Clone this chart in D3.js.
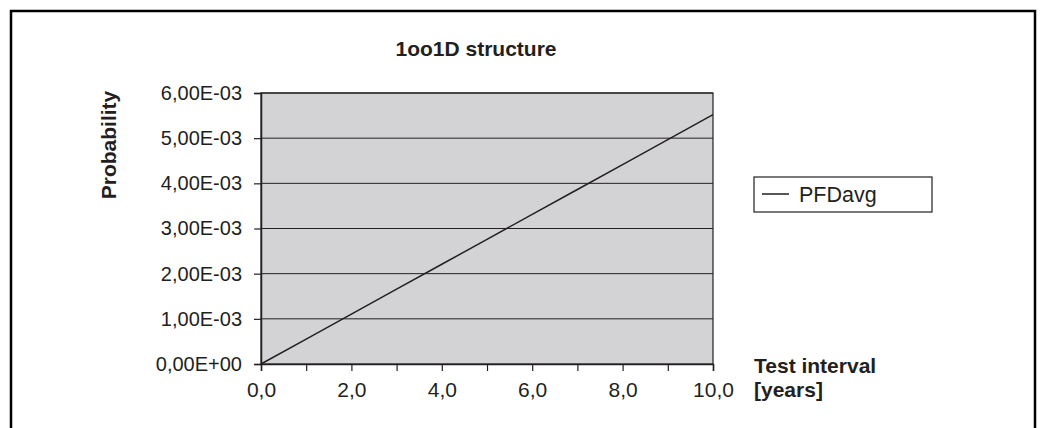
<!DOCTYPE html>
<html>
<head>
<meta charset="utf-8">
<script src="https://cdn.jsdelivr.net/npm/d3@7"></script>
<style>
  body { margin: 0; background: #fff; }
  text { font-family: "Liberation Sans", Arial, sans-serif; fill: #231f20; }
</style>
</head>
<body>
<svg id="chart" width="1043" height="428"></svg>
<script>
// test interval in years and PFDavg
const years = [0, 1, 2, 3, 4, 5, 6, 7, 8, 9, 10];
const pfdAvg = [0, 0.000552, 0.001104, 0.001656, 0.002208, 0.00276, 0.003312, 0.003864, 0.004416, 0.004968, 0.00552];
const yTicks = [0, 0.001, 0.002, 0.003, 0.004, 0.005, 0.006];
const xTicks = [0, 2, 4, 6, 8, 10];
const seriesName = "PFDavg";

const svg = d3.select("#chart");
const plot = { left: 261, top: 93, right: 713, bottom: 364 };

const x = d3.scaleLinear().domain([0, 10]).range([plot.left, plot.right]);
const y = d3.scaleLinear().domain([0, 0.006]).range([plot.bottom, plot.top]);

// outer frame (bottom is cut off)
svg.append("path")
  .attr("d", "M11,428 V11 H1035 V428")
  .attr("fill", "none")
  .attr("stroke", "#000")
  .attr("stroke-width", 2.5);

svg.append("rect")
  .attr("x", plot.left).attr("y", plot.top)
  .attr("width", plot.right - plot.left).attr("height", plot.bottom - plot.top)
  .attr("fill", "#d3d3d5")
  .attr("stroke", "#231f20")
  .attr("stroke-width", 1.2);

// horizontal grid
svg.append("g").selectAll("line")
  .data(yTicks.slice(1))
  .join("line")
  .attr("x1", plot.left).attr("x2", plot.right)
  .attr("y1", d => y(d)).attr("y2", d => y(d))
  .attr("stroke", "#231f20")
  .attr("stroke-width", 1);

const fmtY = d => d3.format(".2e")(d).replace(".", ",").replace(/e([+-])(\d)$/, "E$10$2").replace(/e/, "E");

const yAxis = svg.append("g")
  .attr("transform", `translate(${plot.left},0)`)
  .call(d3.axisLeft(y).tickValues(yTicks).tickFormat(fmtY).tickSize(7).tickPadding(12));

const xAxis = svg.append("g")
  .attr("transform", `translate(0,${plot.bottom})`)
  .call(d3.axisBottom(x).ticks(10).tickSize(7).tickPadding(11)
    .tickFormat(d => xTicks.includes(d) ? d3.format(".1f")(d).replace(".", ",") : ""));

[yAxis, xAxis].forEach(g => {
  g.select(".domain").attr("stroke", "#231f20").attr("stroke-width", 1.5);
  g.selectAll(".tick line").attr("stroke", "#231f20").attr("stroke-width", 1.2);
  g.selectAll(".tick text").attr("fill", "#231f20")
    .style("font-family", "'Liberation Sans', Arial, sans-serif");
});
yAxis.selectAll(".tick text").style("font-size", "20px");
xAxis.selectAll(".tick text").style("font-size", "21px");

// series
svg.append("path")
  .datum(years.map((d, i) => [d, pfdAvg[i]]))
  .attr("fill", "none")
  .attr("stroke", "#231f20")
  .attr("stroke-width", 1.5)
  .attr("d", d3.line().x(d => x(d[0])).y(d => y(d[1])));

// title and axis titles
svg.append("text")
  .attr("x", 476).attr("y", 56)
  .attr("text-anchor", "middle")
  .style("font-size", "21px").attr("font-weight", "bold")
  .text("1oo1D structure");

svg.append("text")
  .attr("transform", "translate(116,145) rotate(-90)")
  .attr("text-anchor", "middle")
  .style("font-size", "21px").attr("font-weight", "bold")
  .text("Probability");

svg.append("text")
  .attr("x", 754).attr("y", 373)
  .style("font-size", "21px").attr("font-weight", "bold")
  .text("Test interval");
svg.append("text")
  .attr("x", 754).attr("y", 397)
  .style("font-size", "21px").attr("font-weight", "bold")
  .text("[years]");

// legend
const legend = svg.append("g").attr("transform", "translate(754,177)");
legend.append("rect")
  .attr("width", 178).attr("height", 35)
  .attr("fill", "#fff").attr("stroke", "#231f20").attr("stroke-width", 1.2);
legend.append("line")
  .attr("x1", 8).attr("x2", 35).attr("y1", 17).attr("y2", 17)
  .attr("stroke", "#231f20").attr("stroke-width", 1.5);
legend.append("text")
  .attr("x", 45).attr("y", 25)
  .style("font-size", "21.5px")
  .text(seriesName);
</script>
</body>
</html>
